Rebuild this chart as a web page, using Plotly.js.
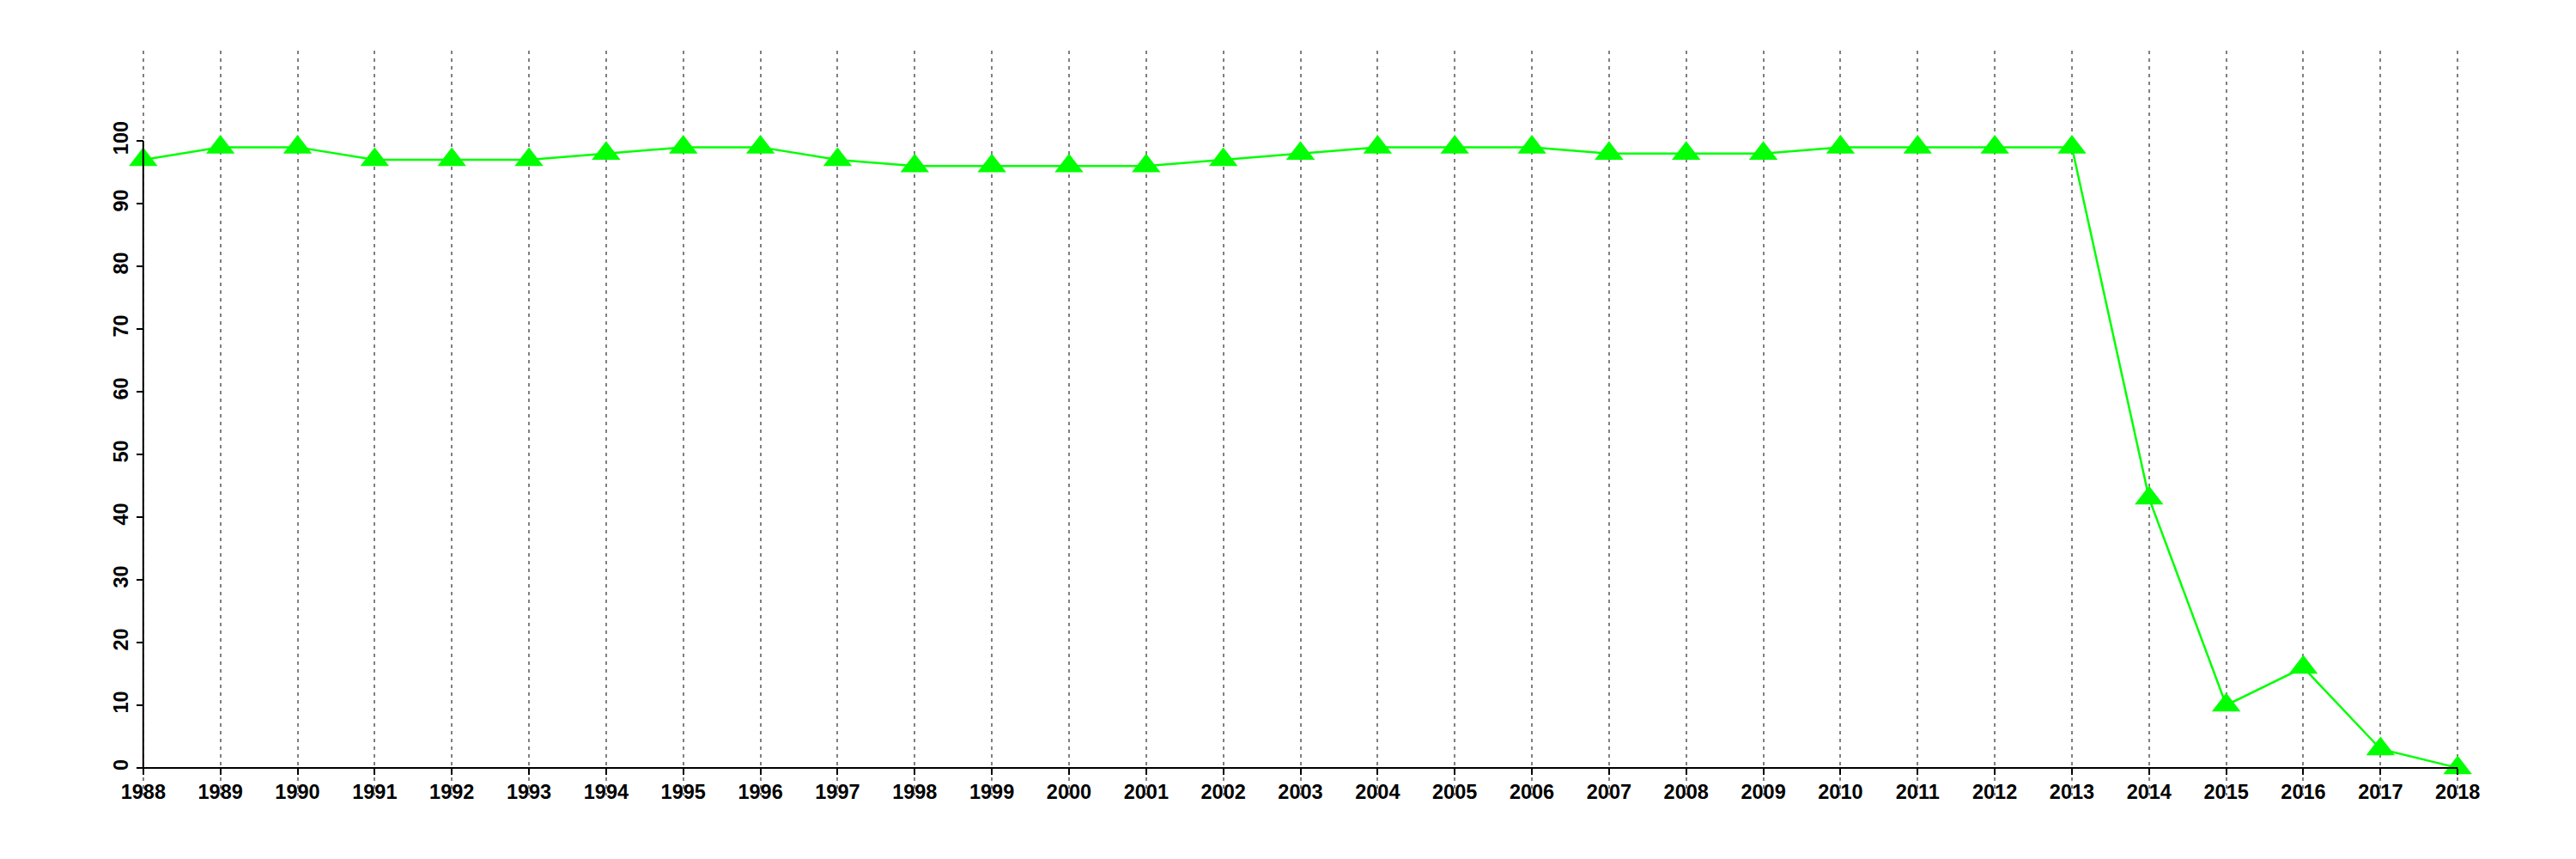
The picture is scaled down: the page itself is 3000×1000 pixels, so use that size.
<!DOCTYPE html>
<html>
<head>
<meta charset="utf-8">
<script src="https://cdn.plot.ly/plotly-3.0.1.min.js"></script>
<style>
  html, body { margin: 0; padding: 0; background: #ffffff; }
  #chart { width: 3000px; height: 1000px; }
</style>
</head>
<body>
<div id="chart"></div>
<script>
// ---- data ----
const years = [1988, 1989, 1990, 1991, 1992, 1993, 1994, 1995, 1996, 1997,
               1998, 1999, 2000, 2001, 2002, 2003, 2004, 2005, 2006, 2007,
               2008, 2009, 2010, 2011, 2012, 2013, 2014, 2015, 2016, 2017, 2018];
const values = [97, 99, 99, 97, 97, 97, 98, 99, 99, 97,
                96, 96, 96, 96, 97, 98, 99, 99, 99, 98,
                98, 98, 99, 99, 99, 99, 43, 10, 16, 3, 0];
const xTickVals = years;
const xTickText = years.map(String);
const yTickVals = [0, 10, 20, 30, 40, 50, 60, 70, 80, 90, 100];
const yTickText = yTickVals.map(String);
const xLimits = [1988, 2018];
const yLimits = [0, 110];

// ---- R-style 4% axis expansion ----
function expand(lim) {
  const d = (lim[1] - lim[0]) * 0.04;
  return [lim[0] - d, lim[1] + d];
}
const xRange = expand(xLimits);
const yRange = expand(yLimits);
const xAxisPos = (yTickVals[0] - yRange[0]) / (yRange[1] - yRange[0]);
const yAxisPos = (xTickVals[0] - xRange[0]) / (xRange[1] - xRange[0]);

const green = '#00ff00';
const tickFont = { family: 'Liberation Sans, Arial, Helvetica, sans-serif', size: 23.5, color: '#000000', weight: 'bold' };

const trace = {
  x: years,
  y: values,
  type: 'scatter',
  mode: 'lines+markers',
  line: { color: green, width: 2.5 },
  marker: { symbol: 'triangle-up', size: 29, color: green, line: { width: 0 } },
  cliponaxis: false,
  hoverinfo: 'x+y'
};

const layout = {
  width: 3000,
  height: 1000,
  margin: { l: 59, r: 30, t: 59, b: 74 },
  paper_bgcolor: '#ffffff',
  plot_bgcolor: '#ffffff',
  showlegend: false,
  xaxis: {
    range: xRange,
    anchor: 'free',
    position: xAxisPos,
    tickmode: 'array',
    tickvals: xTickVals,
    ticktext: xTickText,
    ticks: 'outside',
    ticklen: 7,
    tickwidth: 2,
    tickcolor: '#000000',
    tickfont: tickFont,
    tickangle: 0,
    showline: false,
    zeroline: false,
    showgrid: true,
    gridcolor: '#808080',
    gridwidth: 2,
    griddash: '4px,5px'
  },
  yaxis: {
    range: yRange,
    anchor: 'free',
    position: yAxisPos,
    tickmode: 'array',
    tickvals: yTickVals,
    ticktext: yTickText,
    ticks: 'outside',
    ticklen: 8,
    tickwidth: 2,
    tickcolor: '#000000',
    tickfont: tickFont,
    tickangle: -90,
    showline: false,
    zeroline: false,
    showgrid: false
  },
  shapes: [
    { type: 'line', xref: 'x', yref: 'y', layer: 'above',
      x0: xTickVals[0], x1: xTickVals[xTickVals.length - 1], y0: yTickVals[0], y1: yTickVals[0],
      line: { color: '#000000', width: 2 } },
    { type: 'line', xref: 'x', yref: 'y', layer: 'above',
      x0: xTickVals[0], x1: xTickVals[0], y0: yTickVals[0], y1: yTickVals[yTickVals.length - 1],
      line: { color: '#000000', width: 2 } }
  ]
};

Plotly.newPlot('chart', [trace], layout, { displayModeBar: false, staticPlot: true });
</script>
</body>
</html>
